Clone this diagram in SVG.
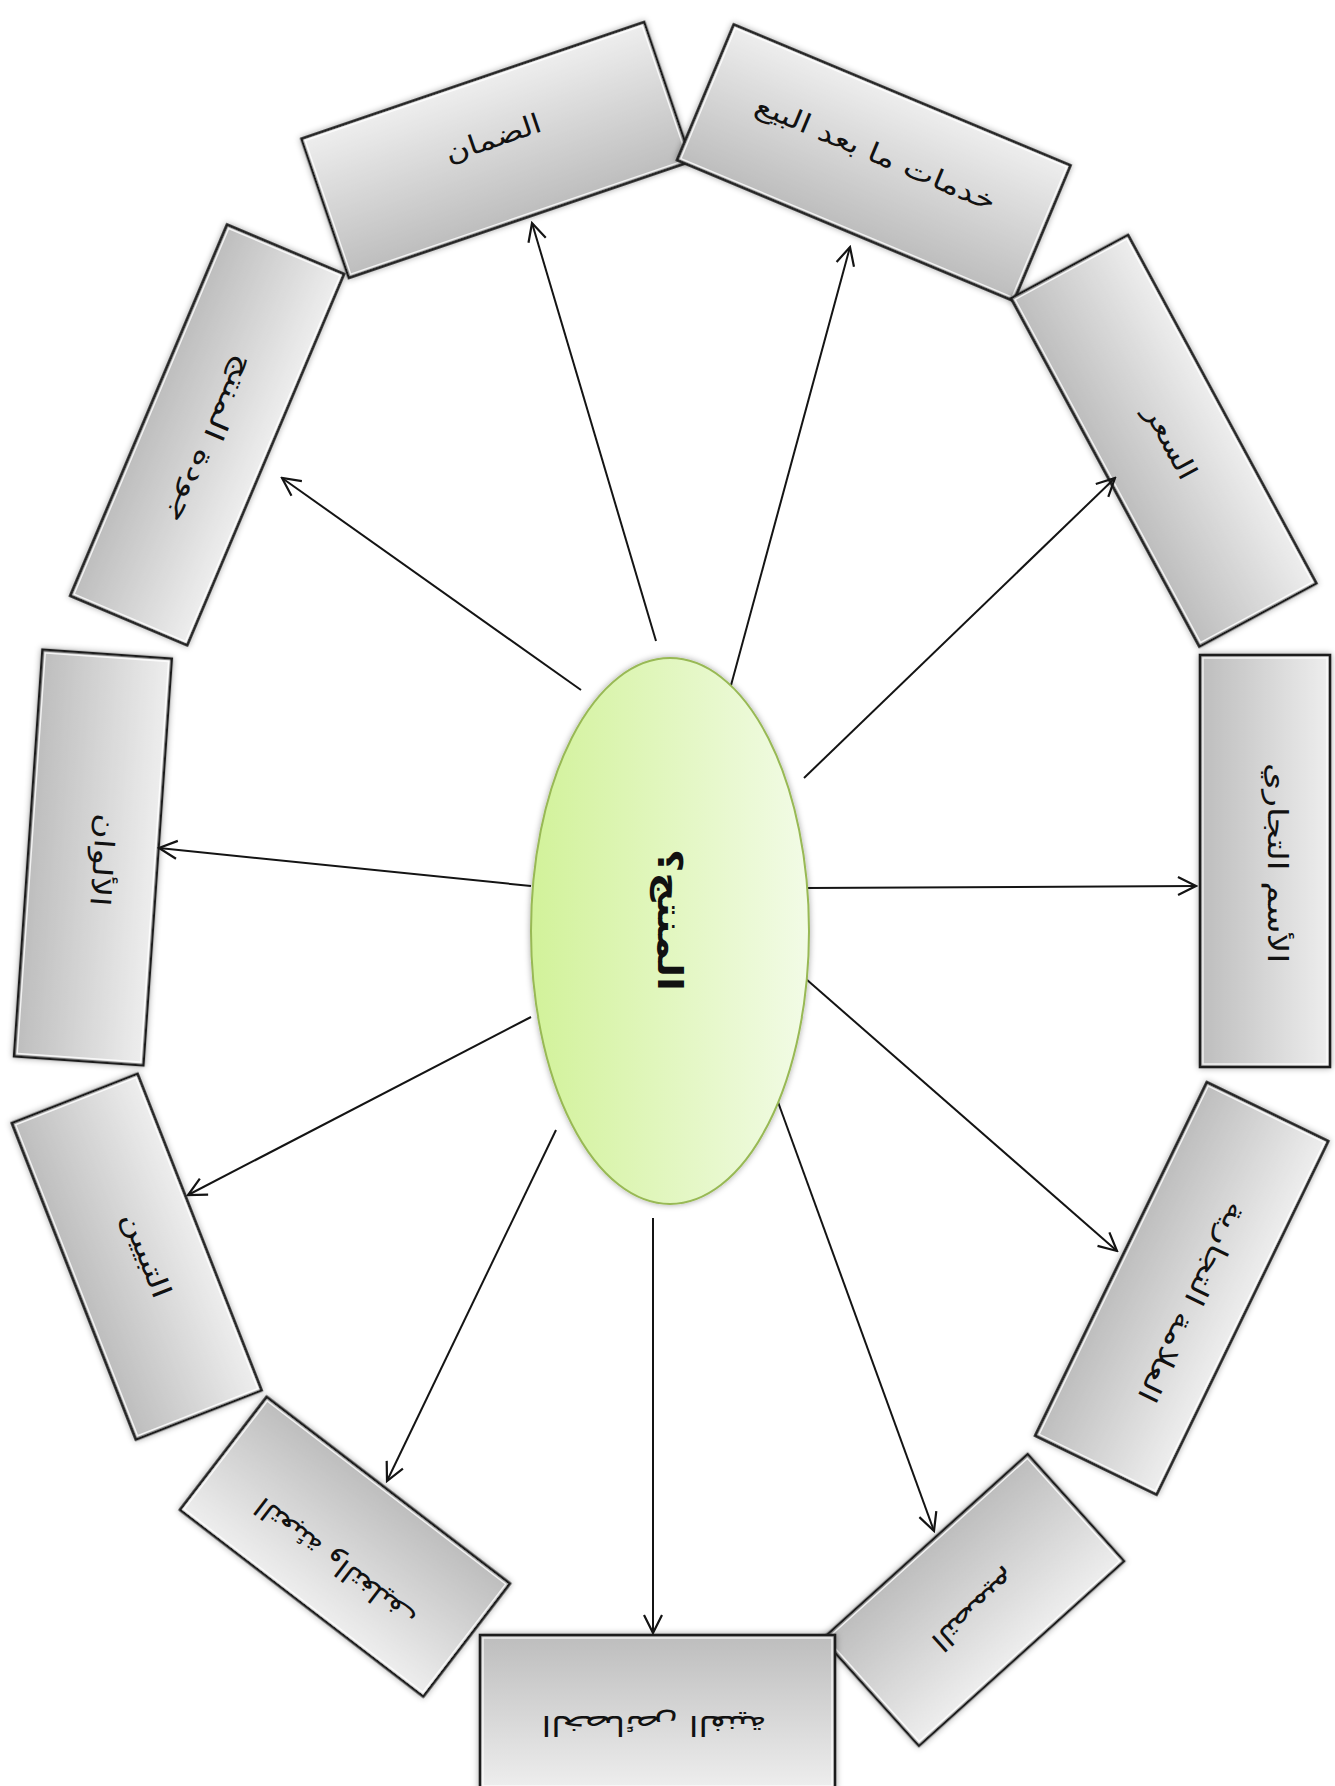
<svg xmlns="http://www.w3.org/2000/svg" width="1335" height="1786" viewBox="0 0 1335 1786">
<defs>
<linearGradient id="gBox" x1="0" y1="0" x2="0" y2="1">
<stop offset="0" stop-color="#eeeeee"/>
<stop offset="1" stop-color="#bdbdbd"/>
</linearGradient>
<linearGradient id="gEll" x1="0" y1="0" x2="1" y2="0">
<stop offset="0" stop-color="#d2f29a"/>
<stop offset="1" stop-color="#f2fbe6"/>
</linearGradient>
<filter id="sh" x="-20%" y="-20%" width="140%" height="140%">
<feDropShadow dx="0" dy="0" stdDeviation="3" flood-color="#000" flood-opacity="0.35"/>
</filter>
<marker id="arr" markerUnits="userSpaceOnUse" markerWidth="24" markerHeight="24" viewBox="0 0 24 24" refX="22" refY="12" orient="auto">
<path d="M4,3 L22,12 L4,21" fill="none" stroke="#141414" stroke-width="2.2" stroke-linejoin="miter"/>
</marker>
</defs>
<style>
.box{fill:url(#gBox);stroke:#1c1c1c;stroke-width:2.6;filter:url(#sh)}
.hl{fill:none;stroke:#ffffff;stroke-opacity:0.8;stroke-width:1.4}
.lbl{font-family:"DejaVu Sans",sans-serif;font-size:27px;fill:#111;text-anchor:middle;dominant-baseline:central}
.ctr{font-family:"DejaVu Sans",sans-serif;font-size:34px;font-weight:bold;fill:#111;text-anchor:middle;dominant-baseline:central}
.con line{stroke:#141414;stroke-width:2;marker-end:url(#arr)}
</style>
<rect width="1335" height="1786" fill="#ffffff"/>

<g id="node-daman">
<g transform="translate(496.5,150) rotate(-18.8)"><rect class="box" x="-181" y="-73.5" width="362" height="147"/><rect class="hl" x="-178" y="-70.5" width="356" height="141"/></g>
<text class="lbl" direction="rtl" transform="translate(493,138) rotate(-18.8)" textLength="100" lengthAdjust="spacingAndGlyphs">الضمان</text>
</g>

<g id="node-services">
<g transform="translate(873.75,162.75) rotate(22.7)"><rect class="box" x="-182.5" y="-73.5" width="365" height="147"/><rect class="hl" x="-179.5" y="-70.5" width="359" height="141"/></g>
<text class="lbl" direction="rtl" transform="translate(876,153) rotate(22.7)" textLength="258" lengthAdjust="spacingAndGlyphs">خدمات ما بعد البيع</text>
</g>

<g id="node-price">
<g transform="translate(1163.7,440.8) rotate(61.6)"><rect class="box" x="-198" y="-66.5" width="396" height="133"/><rect class="hl" x="-195" y="-63.5" width="390" height="127"/></g>
<text class="lbl" direction="rtl" transform="translate(1171,442) rotate(61.6)" textLength="80" lengthAdjust="spacingAndGlyphs">السعر</text>
</g>

<g id="node-tradename">
<g transform="translate(1265,861) rotate(90)"><rect class="box" x="-206" y="-65" width="412" height="130"/><rect class="hl" x="-203" y="-62" width="406" height="124"/></g>
<text class="lbl" direction="rtl" transform="translate(1277,863) rotate(90)" textLength="200" lengthAdjust="spacingAndGlyphs">الأسم التجاري</text>
</g>

<g id="node-trademark">
<g transform="translate(1181.7,1288.4) rotate(115.9)"><rect class="box" x="-196.5" y="-67.5" width="393" height="135"/><rect class="hl" x="-193.5" y="-64.5" width="387" height="129"/></g>
<text class="lbl" direction="rtl" transform="translate(1193,1303) rotate(115.9)" textLength="218" lengthAdjust="spacingAndGlyphs">العلامة التجارية</text>
</g>

<g id="node-design">
<g transform="translate(973.3,1600) rotate(138)"><rect class="box" x="-138" y="-72" width="276" height="144"/><rect class="hl" x="-135" y="-69" width="270" height="138"/></g>
<text class="lbl" direction="rtl" transform="translate(975,1611) rotate(138)" textLength="105" lengthAdjust="spacingAndGlyphs">التصميم</text>
</g>

<g id="node-features">
<g transform="translate(657.5,1712) rotate(180)"><rect class="box" x="-177.5" y="-77" width="355" height="154"/><rect class="hl" x="-174.5" y="-74" width="349" height="148"/></g>
<text class="lbl" direction="rtl" transform="translate(654,1725) rotate(180)" textLength="225" lengthAdjust="spacingAndGlyphs">الخصائص الفنية</text>
</g>

<g id="node-packaging">
<g transform="translate(345,1546.7) rotate(-142.5)"><rect class="box" x="-153.3" y="-71.2" width="306.7" height="142.4"/><rect class="hl" x="-150.3" y="-68.2" width="300.7" height="136.4"/></g>
<text class="lbl" direction="rtl" transform="translate(335,1563) rotate(-142.5)" textLength="195" lengthAdjust="spacingAndGlyphs">التعبئة والتغليف</text>
</g>

<g id="node-labeling">
<g transform="translate(136.7,1256.7) rotate(68.6)"><rect class="box" x="-170" y="-67.5" width="340" height="135"/><rect class="hl" x="-167" y="-64.5" width="334" height="129"/></g>
<text class="lbl" direction="rtl" transform="translate(147,1255) rotate(68.6)" textLength="90" lengthAdjust="spacingAndGlyphs">التبيين</text>
</g>

<g id="node-colors">
<g transform="translate(92.9,857.5) rotate(94)"><rect class="box" x="-203.8" y="-64.8" width="407.6" height="129.6"/><rect class="hl" x="-200.8" y="-61.8" width="401.6" height="123.6"/></g>
<text class="lbl" direction="rtl" transform="translate(103,860) rotate(94)" textLength="93" lengthAdjust="spacingAndGlyphs">الألوان</text>
</g>

<g id="node-quality">
<g transform="translate(207.1,434.9) rotate(112.9)"><rect class="box" x="-201.5" y="-63.5" width="403" height="127"/><rect class="hl" x="-198.5" y="-60.5" width="397" height="121"/></g>
<text class="lbl" direction="rtl" transform="translate(212,440) rotate(112.9)" textLength="180" lengthAdjust="spacingAndGlyphs">جودة المنتج</text>
</g>

<g id="connectors" class="con">
<line x1="656" y1="641" x2="532" y2="223"/>
<line x1="730" y1="689" x2="850" y2="247"/>
<line x1="804" y1="778" x2="1115" y2="478"/>
<line x1="806" y1="888" x2="1196" y2="886"/>
<line x1="806" y1="979" x2="1117" y2="1251"/>
<line x1="778" y1="1102" x2="934" y2="1531"/>
<line x1="653" y1="1218" x2="653" y2="1633"/>
<line x1="556" y1="1130" x2="387" y2="1481"/>
<line x1="531" y1="1017" x2="188" y2="1195"/>
<line x1="531" y1="886" x2="159" y2="848"/>
<line x1="581" y1="690" x2="282" y2="478"/>
</g>

<g id="node-product">
<ellipse cx="670" cy="931" rx="139" ry="273" fill="url(#gEll)" stroke="#98b954" stroke-width="2" filter="url(#sh)"/>
<text class="ctr" direction="rtl" transform="translate(670,920) rotate(90)" textLength="142" lengthAdjust="spacingAndGlyphs">المنتج؟</text>
</g>
</svg>
